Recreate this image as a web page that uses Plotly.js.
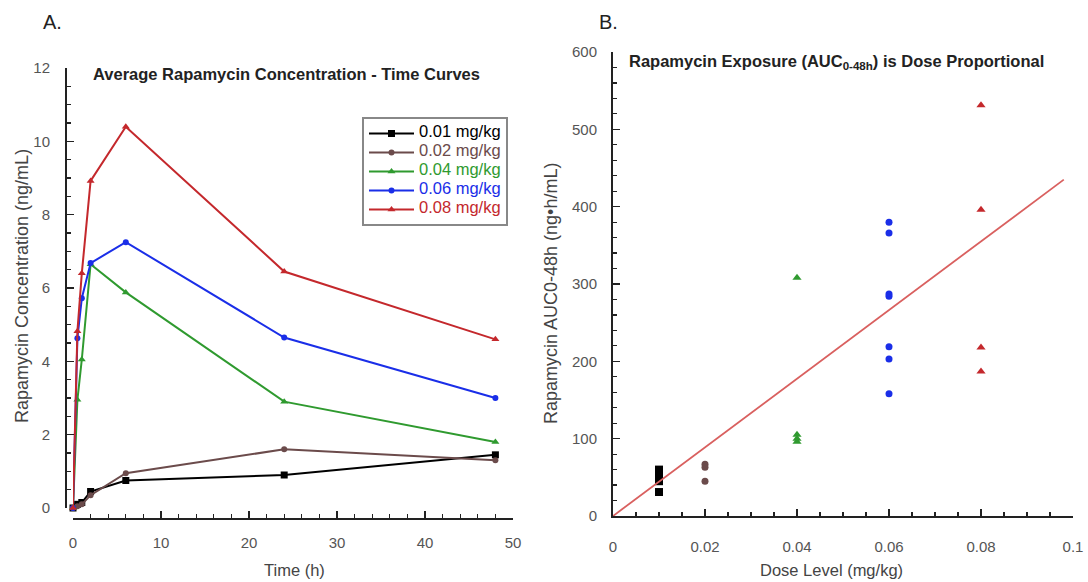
<!DOCTYPE html>
<html><head><meta charset="utf-8">
<script src="https://cdn.plot.ly/plotly-3.0.1.min.js"></script>
<style>html,body{margin:0;padding:0;background:#fff;}#chart{width:1088px;height:582px;}</style>
</head><body><div id="chart"></div>
<script>
// ---- Panel A: concentration-time data ----
const times = [0, 0.5, 1, 2, 6, 24, 48];
const conc001 = [0, 0.1, 0.15, 0.45, 0.75, 0.9, 1.45];
const conc002 = [0, 0.05, 0.1, 0.35, 0.95, 1.6, 1.3];
const conc004 = [0, 2.95, 4.05, 6.65, 5.88, 2.9, 1.8];
const conc006 = [0, 4.63, 5.72, 6.68, 7.25, 4.65, 3.0];
const conc008 = [0, 4.82, 6.4, 8.92, 10.4, 6.45, 4.6];
const doseNames = ["0.01 mg/kg", "0.02 mg/kg", "0.04 mg/kg", "0.06 mg/kg", "0.08 mg/kg"];

// ---- Panel B: AUC vs dose ----
const dose001 = [0.01, 0.01, 0.01, 0.01];
const auc001 = [60, 52, 45, 31];
const dose002 = [0.02, 0.02, 0.02];
const auc002 = [67, 63, 45];
const dose004 = [0.04, 0.04, 0.04, 0.04];
const auc004 = [308, 105, 100, 96];
const dose006 = [0.06, 0.06, 0.06, 0.06, 0.06, 0.06, 0.06];
const auc006 = [380, 366, 287, 284, 219, 203, 158];
const dose008 = [0.08, 0.08, 0.08, 0.08];
const auc008 = [531, 396, 218, 187];
const fitX = [0, 0.098];
const fitY = [0, 435];

const colors = ["#000000", "#6b4b4b", "#2f9a2f", "#1a2ee8", "#c4282c"];
const symbols = ["square", "circle", "triangle-up", "circle", "triangle-up"];
const msizes = [7, 6, 7, 6, 7];
const concs = [conc001, conc002, conc004, conc006, conc008];
const doses = [dose001, dose002, dose004, dose006, dose008];
const aucs = [auc001, auc002, auc004, auc006, auc008];

const W = 1088, H = 582;
const px = v => v / W, py = v => 1 - v / H;
const FAM = "Liberation Sans, Arial, sans-serif";

const traces = [];
for (let i = 0; i < 5; i++) {
  traces.push({
    x: times, y: concs[i], type: "scatter", mode: "lines+markers",
    name: '<span style="color:' + colors[i] + ';font-size:16.5px">' + doseNames[i] + '</span>',
    line: {color: colors[i], width: 2},
    marker: {color: colors[i], symbol: symbols[i], size: msizes[i]},
    cliponaxis: false, xaxis: "x", yaxis: "y", showlegend: true
  });
}
for (let i = 0; i < 5; i++) {
  traces.push({
    x: doses[i], y: aucs[i], type: "scatter", mode: "markers",
    marker: {color: colors[i], symbol: symbols[i], size: msizes[i] + 1},
    cliponaxis: false, xaxis: "x2", yaxis: "y2", showlegend: false
  });
}
traces.push({
  x: fitX, y: fitY, type: "scatter", mode: "lines",
  line: {color: "#d9605f", width: 1.8}, xaxis: "x2", yaxis: "y2", showlegend: false
});

const tickFont = {family: FAM, size: 15, color: "#555"};
const axBase = {
  showgrid: false, zeroline: false, showline: true, linecolor: "#222", linewidth: 2,
  ticks: "inside", ticklen: 7, tickwidth: 1.5, tickcolor: "#222",
  tickfont: tickFont, automargin: false, fixedrange: true
};
const minorBase = {ticks: "inside", ticklen: 4, tickwidth: 1.2, tickcolor: "#222", showgrid: false};

const layout = {
  width: W, height: H,
  margin: {l: 0, r: 0, t: 0, b: 0},
  paper_bgcolor: "#fff", plot_bgcolor: "rgba(0,0,0,0)",
  font: {family: FAM, color: "#333"},
  xaxis: Object.assign({}, axBase, {
    domain: [px(73), px(513)], range: [0, 50], dtick: 10, tick0: 0,
    anchor: "free", position: py(519), ticklabelstandoff: 10,
    minor: Object.assign({dtick: 2}, minorBase)
  }),
  yaxis: Object.assign({}, axBase, {
    domain: [py(508), py(68)], range: [0, 12], dtick: 2, tick0: 0,
    anchor: "free", position: px(66), ticklabelstandoff: 12,
    minor: Object.assign({dtick: 0.5}, minorBase)
  }),
  xaxis2: Object.assign({}, axBase, {
    domain: [px(613), px(1073)], range: [0, 0.1], dtick: 0.02, tick0: 0,
    anchor: "y2", ticklabelstandoff: 16,
    minor: Object.assign({dtick: 0.005}, minorBase)
  }),
  yaxis2: Object.assign({}, axBase, {
    domain: [py(516), py(52)], range: [0, 600], dtick: 100, tick0: 0,
    anchor: "x2", ticklabelstandoff: 11,
    minor: Object.assign({dtick: 20}, minorBase)
  }),
  legend: {
    x: px(362), y: py(117), xanchor: "left", yanchor: "top",
    bordercolor: "#888", borderwidth: 2, bgcolor: "#fff",
    font: {size: 10, family: FAM},
    itemwidth: 45, tracegroupgap: 0
  },
  annotations: [
    {text: "A.", x: px(41), y: py(22), xref: "paper", yref: "paper", xanchor: "left", yanchor: "middle",
     showarrow: false, font: {size: 20, color: "#222"}},
    {text: "B.", x: px(597), y: py(22), xref: "paper", yref: "paper", xanchor: "left", yanchor: "middle",
     showarrow: false, font: {size: 20, color: "#222"}},
    {text: "<b>Average Rapamycin Concentration - Time Curves</b>", x: px(91), y: py(74), xref: "paper", yref: "paper",
     xanchor: "left", yanchor: "middle", showarrow: false, font: {size: 16.5, color: "#222"}},
    {text: "<b>Rapamycin Exposure (AUC<sub>0-48h</sub>) is Dose Proportional</b>", x: px(627), y: py(62), xref: "paper", yref: "paper",
     xanchor: "left", yanchor: "middle", showarrow: false, font: {size: 16.5, color: "#222"}},
    {text: "Time (h)", x: px(294), y: py(570), xref: "paper", yref: "paper", xanchor: "center", yanchor: "middle",
     showarrow: false, font: {size: 16.5, color: "#444"}},
    {text: "Dose Level (mg/kg)", x: px(831), y: py(570), xref: "paper", yref: "paper", xanchor: "center", yanchor: "middle",
     showarrow: false, font: {size: 16.5, color: "#444"}},
    {text: "Rapamycin Concentration (ng/mL)", x: px(22), y: py(286), xref: "paper", yref: "paper", xanchor: "center", yanchor: "middle",
     textangle: -90, showarrow: false, font: {size: 18, color: "#444"}},
    {text: "Rapamycin AUC0-48h (ng•h/mL)", x: px(551), y: py(294), xref: "paper", yref: "paper", xanchor: "center", yanchor: "middle",
     textangle: -90, showarrow: false, font: {size: 18, color: "#444"}}
  ]
};

Plotly.newPlot("chart", traces, layout, {displayModeBar: false, staticPlot: true});
</script>
</body></html>
